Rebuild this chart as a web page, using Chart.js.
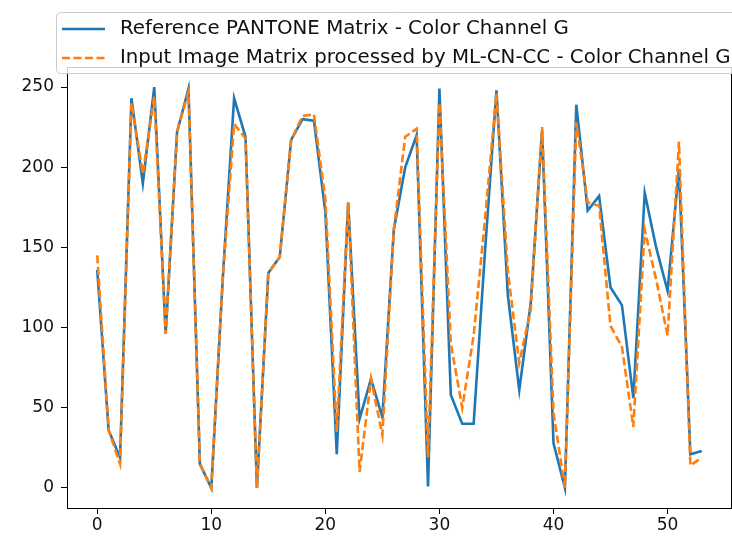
<!DOCTYPE html>
<html>
<head>
<meta charset="utf-8">
<title>Color Channel G</title>
<script src="https://cdn.jsdelivr.net/npm/chart.js@4.4.1/dist/chart.umd.min.js"></script>
<style>
    html, body { margin: 0; padding: 0; background: #fff; }
    #chartCanvas { display: block; }
</style>
</head>
<body>
<canvas id="chartCanvas" width="732" height="539"></canvas>
<script>
// Data
const xValues = Array.from({ length: 54 }, (_, i) => i);
const referenceG = [
    136, 36, 19, 243, 190, 250, 96, 222, 249, 15,
    0, 130, 243, 219, 0, 134, 144, 217, 230, 229,
    172, 21, 178, 43, 68, 44, 161, 200, 220, 1,
    249, 58, 40, 40, 148, 248, 120, 61, 115, 223,
    28, 0, 239, 173, 182, 125, 114, 56, 184, 150,
    123, 199, 21, 23
];
const processedG = [
    145, 36, 15, 240, 196, 244, 96, 222, 247, 15,
    0, 130, 227, 218, 0, 134, 144, 217, 232, 233,
    180, 35, 178, 10, 68, 33, 161, 219, 224, 19,
    240, 90, 50, 95, 168, 246, 135, 78, 111, 225,
    47, 0, 228, 178, 176, 101, 88, 38, 161, 130,
    95, 216, 14, 19
];
const seriesLabels = [
    'Reference PANTONE Matrix - Color Channel G',
    'Input Image Matrix processed by ML-CN-CC - Color Channel G'
];
const xTicks = [0, 10, 20, 30, 40, 50];
const yTicks = [0, 50, 100, 150, 200, 250];

const BLUE = '#1f77b4';
const ORANGE = '#ff7f0e';
const FONT = '"DejaVu Sans", sans-serif';

let chart;

function toPoints(values) {
    return values.map((v, i) => ({ x: xValues[i], y: v }));
}

// frame (top/right spines) like matplotlib
const framePlugin = {
    id: 'frame',
    afterDatasetsDraw(c) {
        const a = c.chartArea;
        const ctx = c.ctx;
        ctx.save();
        ctx.strokeStyle = '#000';
        ctx.lineWidth = 1;
        ctx.beginPath();
        ctx.moveTo(a.left, a.top + 0.5);
        ctx.lineTo(a.right, a.top + 0.5);
        ctx.moveTo(a.right - 0.5, a.top);
        ctx.lineTo(a.right - 0.5, a.bottom);
        ctx.stroke();
        ctx.restore();
    }
};

// legend box drawn over the top of the axes
const legendPlugin = {
    id: 'overlayLegend',
    afterDraw(c) {
        const ctx = c.ctx;
        ctx.save();
        ctx.font = '19.8px ' + FONT;
        const textX = 120;
        const rows = [29, 58];
        let w = 0;
        seriesLabels.forEach(t => { w = Math.max(w, ctx.measureText(t).width); });
        const boxX = 56.5, boxY = 12.5, boxW = textX - boxX + w + 10, boxH = 61;
        ctx.beginPath();
        ctx.roundRect(boxX, boxY, boxW, boxH, 4);
        ctx.fillStyle = 'rgba(255,255,255,0.8)';
        ctx.fill();
        ctx.strokeStyle = '#cccccc';
        ctx.lineWidth = 1;
        ctx.stroke();

        const colors = [BLUE, ORANGE];
        const dashes = [[], [8, 3.5]];
        rows.forEach((y, i) => {
            ctx.beginPath();
            ctx.setLineDash(dashes[i]);
            ctx.strokeStyle = colors[i];
            ctx.lineWidth = 2.6;
            ctx.moveTo(62, y);
            ctx.lineTo(105, y);
            ctx.stroke();
            ctx.setLineDash([]);
            ctx.fillStyle = '#111';
            ctx.textBaseline = 'middle';
            ctx.textAlign = 'left';
            ctx.fillText(seriesLabels[i], textX, y);
        });
        ctx.restore();
    }
};

function initializeChart() {
    const canvas = document.getElementById('chartCanvas');
    if (!canvas) {
        console.error('canvas not found');
        return;
    }
    chart = new Chart(canvas, {
        type: 'line',
        data: {
            datasets: [{
                label: seriesLabels[0],
                data: toPoints(referenceG),
                borderColor: BLUE,
                borderWidth: 2.6,
                pointRadius: 0,
                tension: 0,
                order: 1
            }, {
                label: seriesLabels[1],
                data: toPoints(processedG),
                borderColor: ORANGE,
                borderWidth: 2.6,
                borderDash: [8, 3.5],
                pointRadius: 0,
                tension: 0,
                order: 0
            }]
        },
        options: {
            responsive: false,
            animation: false,
            events: [],
            layout: { padding: { top: 67, right: 0, bottom: 0, left: 0 } },
            plugins: {
                legend: { display: false },
                tooltip: { enabled: false }
            },
            scales: {
                x: {
                    type: 'linear',
                    min: -2.65,
                    max: 55.65,
                    afterBuildTicks: s => { s.ticks = xTicks.map(v => ({ value: v })); },
                    afterFit: s => { s.height = 31; },
                    grid: { drawOnChartArea: false, drawTicks: true, tickLength: 6, tickColor: '#000', tickWidth: 1 },
                    border: { display: true, color: '#000', width: 1 },
                    ticks: { color: '#111', font: { family: FONT, size: 17 }, padding: 1, maxRotation: 0 }
                },
                y: {
                    min: -12.5,
                    max: 262.5,
                    afterBuildTicks: s => { s.ticks = yTicks.map(v => ({ value: v })); },
                    afterFit: s => { s.width = 67; },
                    grid: { drawOnChartArea: false, drawTicks: true, tickLength: 6, tickColor: '#000', tickWidth: 1 },
                    border: { display: true, color: '#000', width: 1 },
                    ticks: { color: '#111', font: { family: FONT, size: 17 }, padding: 7 }
                }
            }
        },
        plugins: [framePlugin, legendPlugin]
    });
    console.log('chart ready');
}

document.addEventListener('DOMContentLoaded', initializeChart);
</script>
</body>
</html>
